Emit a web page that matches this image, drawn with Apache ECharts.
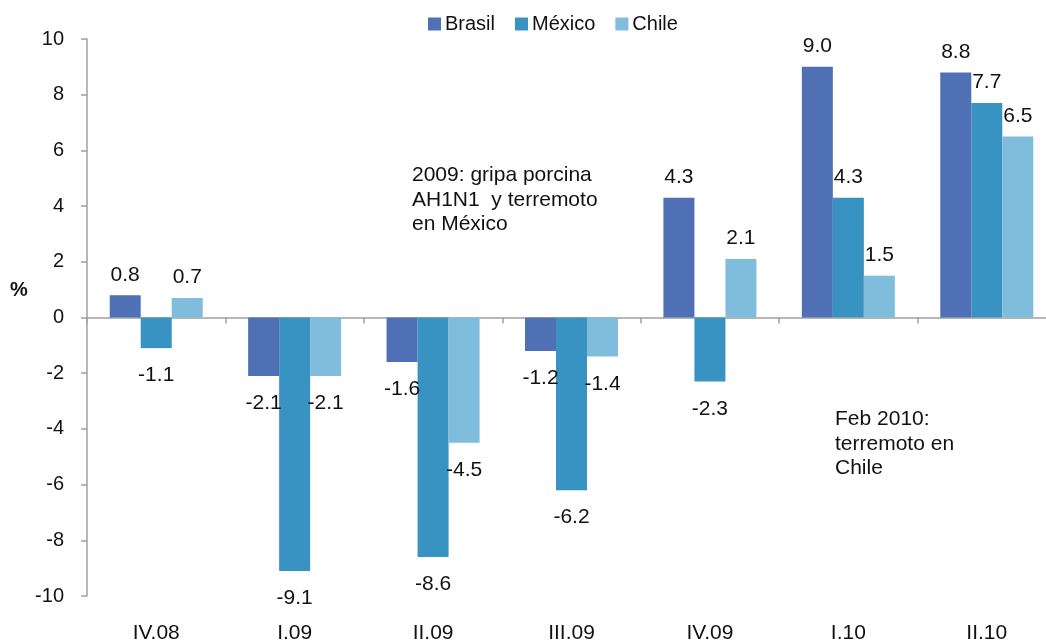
<!DOCTYPE html>
<html>
<head>
<meta charset="utf-8">
<script src="https://cdn.jsdelivr.net/npm/echarts@6/dist/echarts.min.js"></script>
<style>
  html, body { margin: 0; padding: 0; background: #fff; overflow: hidden; }
  /* the plot runs slightly past the right edge of the window, as in the source */
  #chart { width: 1056px; height: 644px; }
</style>
</head>
<body>
<div id="chart"></div>
<script>
// Quarterly GDP growth, %
const categories = ['IV.08', 'I.09', 'II.09', 'III.09', 'IV.09', 'I.10', 'II.10'];
const brasil = [0.8, -2.1, -1.6, -1.2, 4.3, 9.0, 8.8];
const mexico = [-1.1, -9.1, -8.6, -6.2, -2.3, 4.3, 7.7];
const chile = [0.7, -2.1, -4.5, -1.4, 2.1, 1.5, 6.5];
const yTicks = { min: -10, max: 10, interval: 2 };

const FONT = 'Liberation Sans, Arial, sans-serif';
const colors = { brasil: '#4F70B4', mexico: '#3892C2', chile: '#80BCDC' };
const AXIS_GREY = '#A0A0A0';

// Positive values get their label above the bar, negative ones below it
function withLabels(values) {
  return values.map(v => ({
    value: v,
    label: v < 0 ? { position: 'bottom', distance: 17 } : { position: 'top', distance: 10 }
  }));
}

function barSeries(name, values, color) {
  return {
    name: name,
    type: 'bar',
    xAxisIndex: 0,
    data: withLabels(values),
    barGap: '0%',
    barCategoryGap: '32.8%',
    itemStyle: { color: color },
    label: {
      show: true,
      color: '#111',
      fontSize: 21,
      fontFamily: FONT,
      formatter: p => p.value.toFixed(1)
    }
  };
}

const chart = echarts.init(document.getElementById('chart'));
chart.setOption({
  animation: false,
  textStyle: { fontFamily: FONT },
  legend: {
    top: 9,
    left: 423,
    itemWidth: 13,
    itemHeight: 13,
    itemGap: 20,
    icon: 'rect',
    textStyle: { fontSize: 20, color: '#111', fontFamily: FONT, padding: [0, 0, 0, -1] },
    data: ['Brasil', 'México', 'Chile']
  },
  grid: { left: 87, right: 0, top: 39, bottom: 47 },
  xAxis: [
    {
      // zero line with category separators
      type: 'category',
      data: categories,
      axisLine: { onZero: true, lineStyle: { color: AXIS_GREY, width: 1.5 } },
      axisTick: { show: true, length: 6, lineStyle: { color: AXIS_GREY, width: 1.5 } },
      axisLabel: { show: false },
      splitLine: { show: false }
    },
    {
      // quarter labels along the bottom edge
      type: 'category',
      data: categories,
      position: 'bottom',
      axisLine: { show: false, onZero: false },
      axisTick: { show: false },
      axisLabel: { show: true, margin: 27, fontSize: 21, color: '#111', fontFamily: FONT },
      splitLine: { show: false }
    }
  ],
  yAxis: {
    type: 'value',
    min: yTicks.min,
    max: yTicks.max,
    interval: yTicks.interval,
    axisLine: { show: true, lineStyle: { color: AXIS_GREY, width: 1.5 } },
    axisTick: { show: true, length: 6, lineStyle: { color: AXIS_GREY, width: 1.5 } },
    axisLabel: { margin: 23, fontSize: 20, color: '#111', fontFamily: FONT },
    splitLine: { show: false }
  },
  graphic: [
    {
      type: 'text', left: 10, top: 280,
      style: { text: '%', fontSize: 20, fontWeight: 'bold', fill: '#111', fontFamily: FONT }
    },
    {
      type: 'text', left: 412, top: 163,
      style: {
        text: '2009: gripa porcina\nAH1N1  y terremoto\nen México',
        fontSize: 21, lineHeight: 24.5, fill: '#111', fontFamily: FONT
      }
    },
    {
      type: 'text', left: 835, top: 407,
      style: {
        text: 'Feb 2010:\nterremoto en\nChile',
        fontSize: 21, lineHeight: 24.5, fill: '#111', fontFamily: FONT
      }
    }
  ],
  series: [
    barSeries('Brasil', brasil, colors.brasil),
    barSeries('México', mexico, colors.mexico),
    barSeries('Chile', chile, colors.chile)
  ]
});
</script>
</body>
</html>
